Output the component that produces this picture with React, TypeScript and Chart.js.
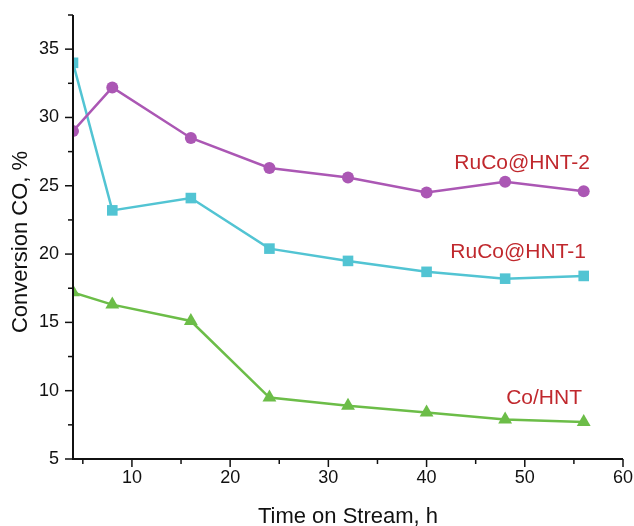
import React, { useEffect, useRef } from "react";
import { Chart, registerables } from "chart.js";

Chart.register(...registerables);

const hours = [4, 8, 16, 24, 32, 40, 48, 56];
const rucoHnt2 = [29.0, 32.2, 28.5, 26.3, 25.6, 24.5, 25.3, 24.6];
const rucoHnt1 = [34.0, 23.2, 24.1, 20.4, 19.5, 18.7, 18.2, 18.4];
const coHnt = [17.2, 16.3, 15.1, 9.5, 8.9, 8.4, 7.9, 7.7];
const xTickLabels = [10, 20, 30, 40, 50, 60];
const yTickLabels = [5, 10, 15, 20, 25, 30, 35];
const seriesNames = ["RuCo@HNT-2", "RuCo@HNT-1", "Co/HNT"];
const xTitle = "Time on Stream, h";
const yTitle = "Conversion CO, %";

const FONT = "'Liberation Sans', Arial, sans-serif";

const decorPlugin = {
  id: "decor",
  afterDraw(chart: any) {
    const ctx = chart.ctx;
    const xs = chart.scales.x;
    const ys = chart.scales.y;
    const area = chart.chartArea;
    ctx.save();
    ctx.strokeStyle = "#111";
    ctx.lineWidth = 2;
    ctx.beginPath();
    ctx.moveTo(area.left, area.top);
    ctx.lineTo(area.left, area.bottom);
    ctx.lineTo(area.right, area.bottom);
    ctx.stroke();
    ctx.lineWidth = 1.5;
    // x ticks
    for (let v = 5; v <= 60; v += 5) {
      const px = xs.getPixelForValue(v);
      const len = v % 10 === 0 ? 8 : 5;
      ctx.beginPath();
      ctx.moveTo(px, area.bottom);
      ctx.lineTo(px, area.bottom + len);
      ctx.stroke();
    }
    // y ticks
    for (let v = 5; v <= 37.5; v += 2.5) {
      const py = ys.getPixelForValue(v);
      const len = v % 5 === 0 ? 8 : 5;
      ctx.beginPath();
      ctx.moveTo(area.left, py);
      ctx.lineTo(area.left - len, py);
      ctx.stroke();
    }
    // titles
    ctx.fillStyle = "#111";
    ctx.font = `22px ${FONT}`;
    ctx.textAlign = "center";
    ctx.textBaseline = "middle";
    ctx.fillText(xTitle, (area.left + area.right) / 2, 517);
    ctx.save();
    ctx.translate(21, 242);
    ctx.rotate(-Math.PI / 2);
    ctx.font = `22px ${FONT}`;
    ctx.fillText(yTitle, 0, 0);
    ctx.restore();
    // series labels
    ctx.fillStyle = "#c0282d";
    ctx.font = `21px ${FONT}`;
    ctx.textAlign = "right";
    ctx.fillText(seriesNames[0], 590, 163);
    ctx.fillText(seriesNames[1], 586, 252);
    ctx.fillText(seriesNames[2], 582, 398);
    ctx.restore();
  },
};

export default function App() {
  const ref = useRef<HTMLCanvasElement>(null);
  useEffect(() => {
    if (!ref.current) return;
    const mk = (label: string, data: number[], color: string, style: any, radius: number) => ({
      label,
      data: hours.map((h, i) => ({ x: h, y: data[i] })),
      borderColor: color,
      backgroundColor: color,
      borderWidth: 2.5,
      pointStyle: style,
      pointRadius: radius,
      pointBorderWidth: 0,
      pointBackgroundColor: color,
      tension: 0,
    });
    const chart = new Chart(ref.current, {
      type: "line",
      data: {
        datasets: [
          mk(seriesNames[0], rucoHnt2, "#ab57b4", "circle", 6),
          mk(seriesNames[1], rucoHnt1, "#52c4d3", "rect", 7.5),
          mk(seriesNames[2], coHnt, "#6cbd48", "triangle", 8),
        ],
      },
      options: {
        animation: false,
        responsive: true,
        maintainAspectRatio: false,
        layout: { padding: { left: 0, top: 15, right: 11, bottom: 0 } },
        plugins: { legend: { display: false }, tooltip: { enabled: false } },
        scales: {
          x: {
            type: "linear",
            min: 4,
            max: 60,
            grid: { display: false, drawTicks: false },
            border: { display: false },
            afterBuildTicks: (s: any) => {
              s.ticks = xTickLabels.map((v) => ({ value: v }));
            },
            afterFit: (s: any) => {
              s.height = 67;
              s.paddingLeft = 0;
              s.paddingRight = 0;
            },
            ticks: {
              color: "#111",
              font: { family: FONT, size: 18 },
              padding: 8,
              maxRotation: 0,
            },
          },
          y: {
            type: "linear",
            min: 5,
            max: 37.5,
            grid: { display: false, drawTicks: false },
            border: { display: false },
            afterBuildTicks: (s: any) => {
              s.ticks = yTickLabels.map((v) => ({ value: v }));
            },
            afterFit: (s: any) => {
              s.width = 73;
              s.paddingTop = 0;
              s.paddingBottom = 0;
            },
            ticks: {
              color: "#111",
              font: { family: FONT, size: 18 },
              padding: 14,
            },
          },
        },
      },
      plugins: [decorPlugin],
    });
    return () => chart.destroy();
  }, []);
  return (
    <div style={{ position: "fixed", left: 0, top: 0, width: 634, height: 526, background: "#fff" }}>
      <canvas ref={ref} />
    </div>
  );
}
